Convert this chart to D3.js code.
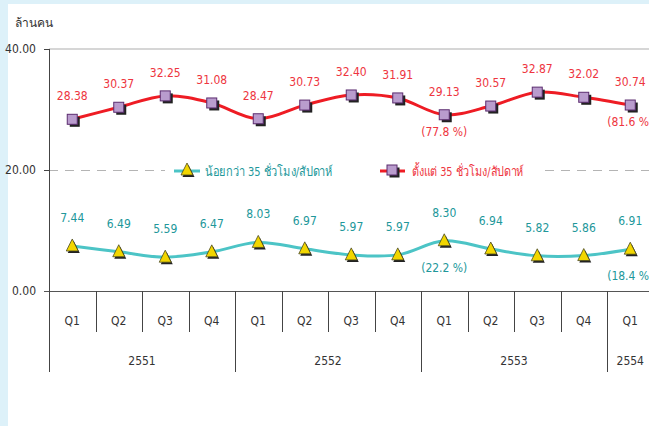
<!DOCTYPE html>
<html>
<head>
<meta charset="utf-8">
<script src="https://cdn.jsdelivr.net/npm/d3@7"></script>
<style>
  body { margin: 0; background: #ddf1f9; }
  svg { display: block; }
  text { font-family: "Liberation Sans Narrow", "DejaVu Sans Condensed", "Noto Sans", sans-serif; }
</style>
</head>
<body>
<div id="chart"></div>
<script>
// quarters and years (Thai Buddhist era)
var quarters = ["Q1", "Q2", "Q3", "Q4", "Q1", "Q2", "Q3", "Q4", "Q1", "Q2", "Q3", "Q4", "Q1"];
var years = ["2551", "2552", "2553", "2554"];
var yearSpan = [4, 4, 4, 1];

// millions of people
var over35 = [28.38, 30.37, 32.25, 31.08, 28.47, 30.73, 32.40, 31.91, 29.13, 30.57, 32.87, 32.02, 30.74];
var under35 = [7.44, 6.49, 5.59, 6.47, 8.03, 6.97, 5.97, 5.97, 8.30, 6.94, 5.82, 5.86, 6.91];

// share labels shown under some points
var over35Pct = { 8: "(77.8 %)", 12: "(81.6 %)" };
var under35Pct = { 8: "(22.2 %)", 12: "(18.4 %)" };

var yTicks = [0, 20, 40];
var unitLabel = "ล้านคน";
var legendUnder = "น้อยกว่า 35 ชั่วโมง/สัปดาห์";
var legendOver = "ตั้งแต่ 35 ชั่วโมง/สัปดาห์";

var width = 649, height = 426;
var redLine = "#ee1c24", redText = "#ee3540";
var tealLine = "#4cc4c6", tealText = "#21979a";

var svg = d3.select("#chart").append("svg")
    .attr("width", width)
    .attr("height", height);

// white panel over the light blue page
svg.append("rect")
    .attr("x", 8).attr("y", 4)
    .attr("width", width - 8).attr("height", height - 4)
    .attr("fill", "#fff");

var x = d3.scaleBand()
    .domain(d3.range(quarters.length))
    .range([49, 49 + 46.5 * quarters.length])
    .padding(0);

var y = d3.scaleLinear().domain([0, 40]).range([291, 49]);

var cx = function(i) { return x(i) + x.bandwidth() / 2; };

// grid lines
svg.append("line")
    .attr("x1", 49).attr("x2", width)
    .attr("y1", y(40)).attr("y2", y(40))
    .attr("stroke", "#c8c8c8").attr("stroke-width", 1.5);
svg.append("line")
    .attr("x1", 49).attr("x2", width)
    .attr("y1", y(20) + 0.5).attr("y2", y(20) + 0.5)
    .attr("stroke", "#b4b4b4").attr("stroke-width", 1)
    .attr("stroke-dasharray", "9,7");

// y axis
svg.append("line")
    .attr("x1", 49.5).attr("x2", 49.5)
    .attr("y1", y(40)).attr("y2", y(0))
    .attr("stroke", "#444");
svg.selectAll(".ytick")
    .data(yTicks)
    .enter()
    .append("line")
    .attr("x1", 44).attr("x2", 49)
    .attr("y1", function(d) { return y(d) + 0.5; })
    .attr("y2", function(d) { return y(d) + 0.5; })
    .attr("stroke", "#444");
svg.selectAll(".ylabel")
    .data(yTicks)
    .enter()
    .append("text")
    .attr("x", 36)
    .attr("y", function(d) { return y(d) + 4; })
    .attr("text-anchor", "end")
    .attr("font-size", 12)
    .attr("fill", "#333")
    .text(function(d) { return d.toFixed(2); });

svg.append("text")
    .attr("x", 15).attr("y", 27)
    .attr("font-size", 12)
    .attr("fill", "#333")
    .text(unitLabel);

// x axis base line
svg.append("line")
    .attr("x1", 44).attr("x2", width)
    .attr("y1", y(0) + 0.5).attr("y2", y(0) + 0.5)
    .attr("stroke", "#555").attr("stroke-width", 1.2);

// quarter separators and labels
svg.selectAll(".qsep")
    .data(d3.range(quarters.length))
    .enter()
    .append("line")
    .attr("x1", function(i) { return Math.round(x(i)) + 0.5; })
    .attr("x2", function(i) { return Math.round(x(i)) + 0.5; })
    .attr("y1", y(0)).attr("y2", 332)
    .attr("stroke", "#444");
svg.selectAll(".qlabel")
    .data(quarters)
    .enter()
    .append("text")
    .attr("x", function(d, i) { return cx(i); })
    .attr("y", 325)
    .attr("text-anchor", "middle")
    .attr("font-size", 12)
    .attr("fill", "#333")
    .text(function(d) { return d; });

// year separators and labels
var start = 0;
years.forEach(function(yr, k) {
    var x0 = x(start);
    var x1 = x(start + yearSpan[k] - 1) + x.bandwidth();
    svg.append("line")
        .attr("x1", Math.round(x0) + 0.5).attr("x2", Math.round(x0) + 0.5)
        .attr("y1", y(0)).attr("y2", 372)
        .attr("stroke", "#444");
    svg.append("text")
        .attr("x", (x0 + x1) / 2)
        .attr("y", 365)
        .attr("text-anchor", "middle")
        .attr("font-size", 12)
        .attr("fill", "#333")
        .text(yr);
    start += yearSpan[k];
});

// lines
var line = d3.line()
    .x(function(d, i) { return cx(i); })
    .y(function(d) { return y(d); })
    .curve(d3.curveCardinal.tension(0));

svg.append("path")
    .datum(over35)
    .attr("d", line)
    .attr("fill", "none")
    .attr("stroke", redLine)
    .attr("stroke-width", 3);
svg.append("path")
    .datum(under35)
    .attr("d", line)
    .attr("fill", "none")
    .attr("stroke", tealLine)
    .attr("stroke-width", 3);

// markers
function square(g, px, py) {
    g.append("rect")
        .attr("x", px - 4.5 + 2).attr("y", py - 4.5 + 2)
        .attr("width", 10).attr("height", 10)
        .attr("fill", "#222");
    g.append("rect")
        .attr("x", px - 5).attr("y", py - 5)
        .attr("width", 10).attr("height", 10)
        .attr("fill", "#b99ccd")
        .attr("stroke", "#5b2c6f").attr("stroke-width", 1);
}
function triangle(g, px, py) {
    var tri = function(ox, oy) {
        return [[px + ox, py - 7 + oy], [px + 6 + ox, py + 5 + oy], [px - 6 + ox, py + 5 + oy]].join(" ");
    };
    g.append("polygon").attr("points", tri(1.5, 2)).attr("fill", "#222");
    g.append("polygon").attr("points", tri(0, 0))
        .attr("fill", "#f2d600")
        .attr("stroke", "#4a4a20").attr("stroke-width", 0.8);
}

var mk = svg.append("g");
over35.forEach(function(d, i) { square(mk, cx(i), y(d)); });
under35.forEach(function(d, i) { triangle(mk, cx(i), y(d)); });

// value labels
svg.selectAll(".ovl")
    .data(over35)
    .enter()
    .append("text")
    .attr("x", function(d, i) { return cx(i); })
    .attr("y", function(d) { return y(d) - 19; })
    .attr("text-anchor", "middle")
    .attr("font-size", 12)
    .attr("fill", redText)
    .text(function(d) { return d.toFixed(2); });
svg.selectAll(".unl")
    .data(under35)
    .enter()
    .append("text")
    .attr("x", function(d, i) { return cx(i); })
    .attr("y", function(d) { return y(d) - 24; })
    .attr("text-anchor", "middle")
    .attr("font-size", 12)
    .attr("fill", tealText)
    .text(function(d) { return d.toFixed(2); });

Object.keys(over35Pct).forEach(function(k) {
    svg.append("text")
        .attr("x", cx(+k)).attr("y", y(over35[k]) + 21)
        .attr("text-anchor", "middle")
        .attr("font-size", 12)
        .attr("fill", redText)
        .text(over35Pct[k]);
});
Object.keys(under35Pct).forEach(function(k) {
    svg.append("text")
        .attr("x", cx(+k)).attr("y", y(under35[k]) + 31)
        .attr("text-anchor", "middle")
        .attr("font-size", 12)
        .attr("fill", tealText)
        .text(under35Pct[k]);
});

// legend
var lg = svg.append("g");
lg.append("rect")
    .attr("x", 165).attr("y", 158)
    .attr("width", 380).attr("height", 24)
    .attr("fill", "#fff");
lg.append("line")
    .attr("x1", 174).attr("x2", 200)
    .attr("y1", 171).attr("y2", 171)
    .attr("stroke", tealLine).attr("stroke-width", 3);
triangle(lg, 187, 170);
lg.append("text")
    .attr("x", 205).attr("y", 176)
    .attr("font-size", 13)
    .attr("textLength", 128)
    .attr("lengthAdjust", "spacingAndGlyphs")
    .attr("fill", tealText)
    .text(legendUnder);
lg.append("line")
    .attr("x1", 380).attr("x2", 405)
    .attr("y1", 171).attr("y2", 171)
    .attr("stroke", redLine).attr("stroke-width", 3);
square(lg, 392, 170);
lg.append("text")
    .attr("x", 412).attr("y", 176)
    .attr("font-size", 13)
    .attr("textLength", 112)
    .attr("lengthAdjust", "spacingAndGlyphs")
    .attr("fill", redText)
    .text(legendOver);
</script>
</body>
</html>
